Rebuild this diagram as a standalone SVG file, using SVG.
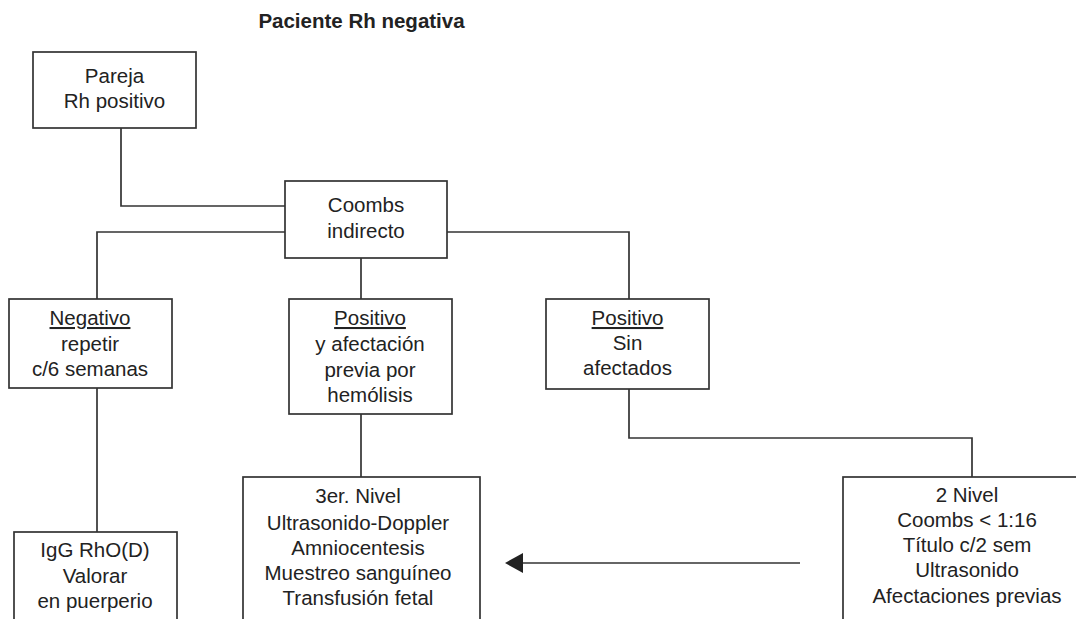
<svg xmlns="http://www.w3.org/2000/svg" width="1076" height="619" viewBox="0 0 1076 619">
<style>
  .box { fill: #ffffff; stroke: #333333; stroke-width: 1.7; }
  .ln { fill: none; stroke: #333333; stroke-width: 1.7; }
  text { font-family: "Liberation Sans", Arial, Helvetica, sans-serif; font-size: 20.5px; fill: #222222; text-anchor: middle; }
  .title { font-weight: bold; font-size: 20.5px; }
  .u { text-decoration: underline; }
</style>
<defs>
  <marker id="arrow" markerWidth="18" markerHeight="20" refX="0" refY="10" orient="auto-start-reverse" markerUnits="userSpaceOnUse">
    <path d="M0,10 L18,0 L18,20 Z" fill="#222222"/>
  </marker>
</defs>
<rect width="1076" height="619" fill="#ffffff"/>
<text class="title" x="361.5" y="28">Paciente Rh negativa</text>

<g id="connectors">
  <path class="ln" d="M121,128 V206 H285"/>
  <path class="ln" d="M97,299 V232 H285"/>
  <path class="ln" d="M447,232 H629 V299"/>
  <path class="ln" d="M361,258 V299"/>
  <path class="ln" d="M97,388 V532"/>
  <path class="ln" d="M361,414 V477"/>
  <path class="ln" d="M629,389 V438 H972 V477"/>
  <line class="ln" x1="800" y1="563" x2="523" y2="563"/>
  <path d="M505,563 L523,553 L523,573 Z" fill="#222222"/>
</g>

<g id="pareja">
  <rect class="box" x="33" y="52" width="163" height="76"/>
  <text x="114.5" y="83">Pareja</text>
  <text x="114.5" y="108">Rh positivo</text>
</g>

<g id="coombs">
  <rect class="box" x="285" y="181" width="162" height="77"/>
  <text x="366" y="212">Coombs</text>
  <text x="366" y="238">indirecto</text>
</g>

<g id="negativo">
  <rect class="box" x="9" y="299" width="163" height="89"/>
  <text x="90" y="325"><tspan class="u">Negativo</tspan></text>
  <text x="90" y="351">repetir</text>
  <text x="90" y="376">c/6 semanas</text>
</g>

<g id="positivo-afectacion">
  <rect class="box" x="289" y="299" width="163" height="115"/>
  <text x="370" y="325"><tspan class="u">Positivo</tspan></text>
  <text x="370" y="351">y afectación</text>
  <text x="370" y="377">previa por</text>
  <text x="370" y="402">hemólisis</text>
</g>

<g id="positivo-sin">
  <rect class="box" x="546" y="299" width="163" height="90"/>
  <text x="627.5" y="325"><tspan class="u">Positivo</tspan></text>
  <text x="627.5" y="350">Sin</text>
  <text x="627.5" y="375">afectados</text>
</g>

<g id="igg">
  <rect class="box" x="14" y="532" width="163" height="110"/>
  <text x="95" y="557">IgG RhO(D)</text>
  <text x="95" y="583">Valorar</text>
  <text x="95" y="608">en puerperio</text>
</g>

<g id="nivel3">
  <rect class="box" x="243" y="477" width="237" height="170"/>
  <text x="358" y="503">3er. Nivel</text>
  <text x="358" y="530">Ultrasonido-Doppler</text>
  <text x="358" y="555">Amniocentesis</text>
  <text x="358" y="580">Muestreo sanguíneo</text>
  <text x="358" y="605">Transfusión fetal</text>
</g>

<g id="nivel2">
  <rect class="box" x="843" y="477" width="260" height="170"/>
  <text x="967" y="502">2 Nivel</text>
  <text x="967" y="527">Coombs &lt; 1:16</text>
  <text x="967" y="552">Título c/2 sem</text>
  <text x="967" y="577">Ultrasonido</text>
  <text x="967" y="603">Afectaciones previas</text>
</g>
</svg>
